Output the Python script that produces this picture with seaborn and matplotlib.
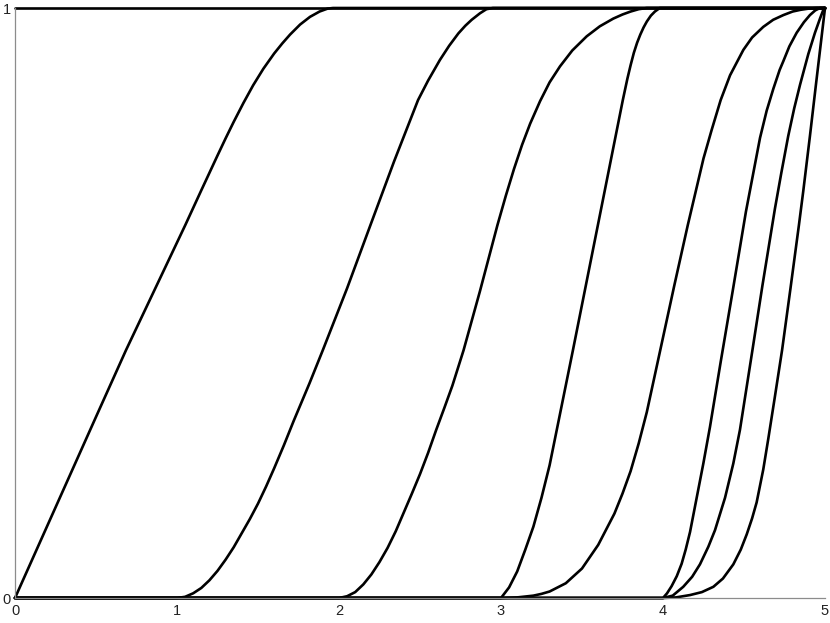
import matplotlib
matplotlib.use("Agg")
import matplotlib.pyplot as plt
import pandas as pd
import seaborn as sns

# ── Curve data ─────────────────────────────────────────────────────────────────
ONE_X = [0, 5]
ONE_Y = [1, 1]

A_X = [0, 0.5, 0.685, 1.051, 1.15, 1.25, 1.3, 1.35, 1.41, 1.47, 1.533, 1.6,
       1.65, 1.698, 1.76, 1.821, 1.88, 1.93, 1.963, 5]
A_Y = [0, 0.307, 0.42, 0.632, 0.691, 0.75, 0.779, 0.807, 0.839, 0.869, 0.897,
       0.923, 0.94, 0.955, 0.972, 0.985, 0.994, 0.999, 1.0, 1.0]

B_X = [0, 1.0, 1.05, 1.1, 1.15, 1.2, 1.25, 1.3, 1.35, 1.4, 1.45, 1.5, 1.55,
       1.6, 1.66, 1.72, 1.818, 1.9, 2.05, 2.194, 2.34, 2.488, 2.55, 2.623,
       2.68, 2.737, 2.78, 2.819, 2.87, 2.91, 2.95, 5]
B_Y = [0, 0, 0.002, 0.008, 0.017, 0.03, 0.046, 0.065, 0.086, 0.11, 0.134,
       0.16, 0.189, 0.22, 0.259, 0.3, 0.364, 0.42, 0.525, 0.632, 0.74, 0.844,
       0.877, 0.912, 0.936, 0.957, 0.97, 0.98, 0.991, 0.998, 1.0, 1.0]

C_X = [0, 2.0, 2.05, 2.1, 2.15, 2.2, 2.25, 2.3, 2.35, 2.4, 2.45, 2.5, 2.55,
       2.6, 2.65, 2.7, 2.769, 2.87, 2.978, 3.03, 3.08, 3.13, 3.18, 3.241, 3.3,
       3.364, 3.44, 3.529, 3.61, 3.693, 3.75, 3.8, 3.85, 3.9, 5]
C_Y = [0, 0, 0.003, 0.01, 0.023, 0.04, 0.061, 0.085, 0.113, 0.145, 0.177,
       0.21, 0.246, 0.285, 0.322, 0.36, 0.42, 0.52, 0.632, 0.682, 0.727, 0.768,
       0.804, 0.842, 0.874, 0.901, 0.928, 0.952, 0.969, 0.982, 0.989, 0.994,
       0.998, 1.0, 1.0]

D_X = [0, 3.0, 3.05, 3.1, 3.15, 3.2, 3.25, 3.3, 3.444, 3.598, 3.752, 3.78,
       3.8, 3.82, 3.84, 3.86, 3.88, 3.9, 3.925, 3.95, 3.98, 5]
D_Y = [0, 0, 0.018, 0.045, 0.082, 0.121, 0.17, 0.225, 0.42, 0.632, 0.844,
       0.88, 0.903, 0.924, 0.941, 0.955, 0.967, 0.977, 0.987, 0.994, 1.0, 1.0]

E_X = [0, 3.0, 3.1, 3.2, 3.25, 3.3, 3.4, 3.5, 3.6, 3.7, 3.75, 3.8, 3.85, 3.9,
       3.983, 4.07, 4.153, 4.25, 4.3, 4.356, 4.414, 4.496, 4.55, 4.619, 4.68,
       4.743, 4.8, 4.85, 4.9, 4.95, 5]
E_Y = [0, 0, 0.001, 0.004, 0.007, 0.011, 0.025, 0.05, 0.09, 0.143, 0.177,
       0.215, 0.262, 0.315, 0.42, 0.53, 0.632, 0.745, 0.793, 0.844, 0.886,
       0.929, 0.95, 0.968, 0.98, 0.988, 0.994, 0.997, 0.999, 1.0, 1.0]

F_X = [0, 4.0, 4.025, 4.053, 4.085, 4.115, 4.14, 4.167, 4.208, 4.249, 4.29,
       4.356, 4.43, 4.512, 4.599, 4.64, 4.681, 4.72, 4.743, 4.78, 4.825, 4.87,
       4.907, 4.94, 4.969, 5]
F_Y = [0, 0, 0.008, 0.02, 0.037, 0.058, 0.082, 0.112, 0.17, 0.228, 0.29, 0.4,
       0.52, 0.655, 0.78, 0.826, 0.863, 0.895, 0.91, 0.935, 0.958, 0.976,
       0.988, 0.996, 1.0, 1.0]

G_X = [0, 4.0, 4.06, 4.125, 4.18, 4.228, 4.28, 4.321, 4.383, 4.434, 4.475,
       4.552, 4.614, 4.691, 4.73, 4.773, 4.81, 4.846, 4.897, 4.938, 4.969,
       4.994, 5]
G_Y = [0, 0, 0.004, 0.019, 0.036, 0.057, 0.087, 0.115, 0.17, 0.228, 0.285,
       0.42, 0.53, 0.66, 0.72, 0.783, 0.83, 0.87, 0.922, 0.958, 0.982, 1.0, 1.0]

H_X = [0, 4.0, 4.08, 4.167, 4.24, 4.311, 4.37, 4.434, 4.48, 4.517, 4.55,
       4.578, 4.619, 4.65, 4.69, 4.735, 4.787, 4.839, 4.866, 4.907, 4.944,
       4.969, 5]
H_Y = [0, 0, 0.001, 0.005, 0.01, 0.019, 0.033, 0.057, 0.082, 0.108, 0.135,
       0.162, 0.218, 0.27, 0.34, 0.42, 0.525, 0.632, 0.69, 0.783, 0.87, 0.928,
       1.0]

X_TICKS = [0, 1, 2, 3, 4, 5]
Y_TICKS = [0, 1]

curves = {
    "one": (ONE_X, ONE_Y), "A": (A_X, A_Y), "B": (B_X, B_Y), "C": (C_X, C_Y),
    "D": (D_X, D_Y), "E": (E_X, E_Y), "F": (F_X, F_Y), "G": (G_X, G_Y),
    "H": (H_X, H_Y),
}
df = pd.concat(
    [pd.DataFrame({"x": xs, "y": ys, "curve": name}) for name, (xs, ys) in curves.items()],
    ignore_index=True,
)

# ── Plot ───────────────────────────────────────────────────────────────────────
sns.set_style("white")
plt.rcParams["font.family"] = ["Liberation Sans", "DejaVu Sans"]

fig = plt.figure(figsize=(8.3, 6.23), dpi=100)
ax = fig.add_axes([15 / 830, 25 / 623, 810 / 830, 590 / 623])

sns.lineplot(data=df, x="x", y="y", units="curve", estimator=None, sort=False,
             color="black", linewidth=1.9, ax=ax, legend=False)
for line in ax.get_lines():
    line.set_clip_on(False)
    line.set_solid_joinstyle("round")

ax.set_xlim(0, 5)
ax.set_ylim(0, 1)
ax.set_xticks(X_TICKS)
ax.set_yticks(Y_TICKS)
ax.set_xticklabels([str(t) for t in X_TICKS])
ax.set_yticklabels([str(t) for t in Y_TICKS])
ax.set_xlabel("")
ax.set_ylabel("")

for side in ("top", "right"):
    ax.spines[side].set_visible(False)
for side in ("left", "bottom"):
    ax.spines[side].set_color("#8c8c8c")
    ax.spines[side].set_linewidth(0.9)

ax.tick_params(axis="both", direction="in", length=6, width=0.8, color="#8c8c8c",
               labelsize=10.5, labelcolor="#222222")
ax.tick_params(axis="x", pad=4)
ax.tick_params(axis="y", pad=3)

fig.savefig("out.png", dpi=100)
